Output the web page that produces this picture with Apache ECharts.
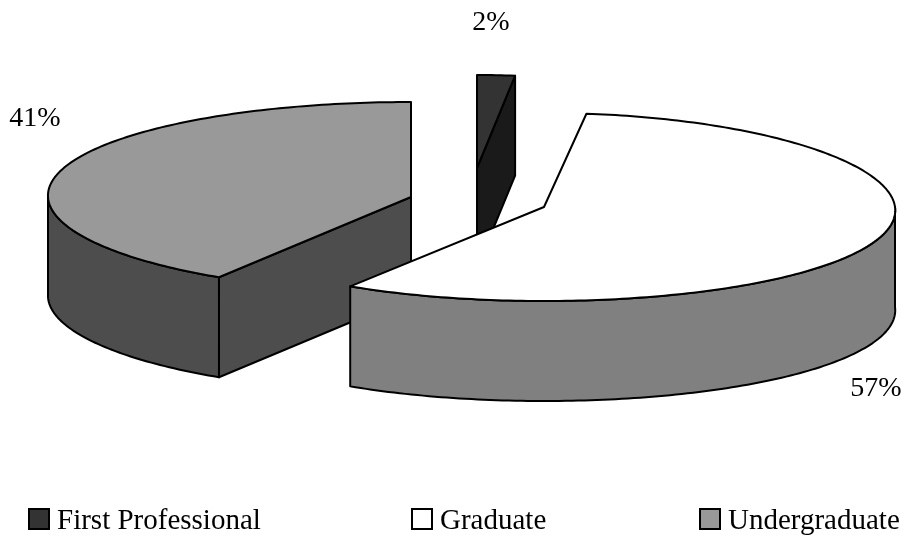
<!DOCTYPE html>
<html>
<head>
<meta charset="utf-8">
<style>html,body{margin:0;padding:0;background:#fff}#chart{width:905px;height:542px}</style>
<script src="https://cdn.jsdelivr.net/npm/echarts@6/dist/echarts.min.js"></script>
</head>
<body>
<div id="chart"></div>
<script>
// Enrollment share by level, drawn as an exploded 3D pie.
const categories = ['First Professional', 'Graduate', 'Undergraduate'];
const shares = [2, 57, 41];

// Rendering of each wedge: top colour, wall colour, stacking order.
const topColors = ['#333333', '#ffffff', '#999999'];
const wallColors = ['#1a1a1a', '#808080', '#4d4d4d'];
const stacking = [1, 3, 2];

// Exploded wedge ellipses and label anchors, in pixels.
const wedgeCx = [477, 544, 411];
const wedgeCy = [168, 207, 197];
const wedgeRx = [304, 351, 363];
const wedgeRy = [93, 94, 95];
const wedgeTaper = [0, 0.036, -0.015]; // horizontal perspective, back to front
const labelX = [491, 876, 35];
const labelY = [23, 389, 119];
const legendLeft = [28, 411, 699];
const wallDepth = 100;

const FONT = '"Liberation Serif","Times New Roman",serif';
const INK = '#000000';
const DEG = Math.PI / 180;

function wedgeAngles(index) {
  let before = 0;
  for (let i = 0; i < index; i++) before += shares[i];
  return [before * 3.6, (before + shares[index]) * 3.6];
}

function rimPoint(i, deg, drop) {
  const sin = Math.sin(deg * DEG);
  const cos = Math.cos(deg * DEG);
  return [
    wedgeCx[i] + wedgeRx[i] * sin * (1 - wedgeTaper[i] * cos),
    wedgeCy[i] - wedgeRy[i] * cos + drop
  ];
}

function arcPoints(i, from, to, drop) {
  const pts = [];
  const steps = Math.max(2, Math.ceil(Math.abs(to - from)));
  for (let s = 0; s <= steps; s++) pts.push(rimPoint(i, from + (to - from) * s / steps, drop));
  return pts;
}

function faceShape(points, fill) {
  return {
    type: 'polygon',
    shape: { points },
    style: { fill, stroke: INK, lineWidth: 2, lineJoin: 'round' }
  };
}

function renderWedge(i, api) {
  const value = api.value(0);
  const [start, end] = wedgeAngles(i);
  const centre = [wedgeCx[i], wedgeCy[i]];
  const children = [];

  // Cut faces that turn toward the viewer.
  [[start, -Math.sin(start * DEG)], [end, Math.sin(end * DEG)]].forEach(([deg, facing]) => {
    if (facing > 0.001) {
      children.push(faceShape([
        centre, rimPoint(i, deg, 0), rimPoint(i, deg, wallDepth), [centre[0], centre[1] + wallDepth]
      ], wallColors[i]));
    }
  });

  // Curved outer wall: only the front half of the rim shows.
  const wallFrom = Math.max(start, 90);
  const wallTo = Math.min(end, 270);
  if (wallTo > wallFrom) {
    children.push(faceShape(
      arcPoints(i, wallFrom, wallTo, 0).concat(arcPoints(i, wallTo, wallFrom, wallDepth)),
      wallColors[i]
    ));
  }

  children.push(faceShape([centre].concat(arcPoints(i, start, end, 0)), topColors[i]));

  children.push({
    type: 'text',
    x: labelX[i],
    y: labelY[i],
    style: {
      text: value + '%',
      fill: INK,
      font: '28px ' + FONT,
      align: 'center',
      verticalAlign: 'middle'
    }
  });

  return { type: 'group', children };
}

const chart = echarts.init(document.getElementById('chart'));
chart.setOption({
  animation: false,
  backgroundColor: '#ffffff',
  legend: categories.map((name, i) => ({
    data: [name],
    left: legendLeft[i],
    top: 507,
    padding: 0,
    itemWidth: 20,
    itemHeight: 20,
    itemGap: 0,
    selectedMode: false,
    icon: 'rect',
    itemStyle: { borderColor: INK, borderWidth: 2 },
    formatter: '{t|{name}}',
    textStyle: {
      color: INK,
      fontFamily: FONT,
      fontSize: 29,
      rich: { t: { color: INK, fontFamily: FONT, fontSize: 29, padding: [5, 0, 0, 3] } }
    }
  })),
  series: categories.map((name, i) => ({
    type: 'custom',
    name,
    coordinateSystem: 'none',
    z: stacking[i],
    silent: true,
    itemStyle: { color: topColors[i] },
    data: [[shares[i]]],
    renderItem: (params, api) => renderWedge(i, api)
  }))
});
</script>
</body>
</html>
